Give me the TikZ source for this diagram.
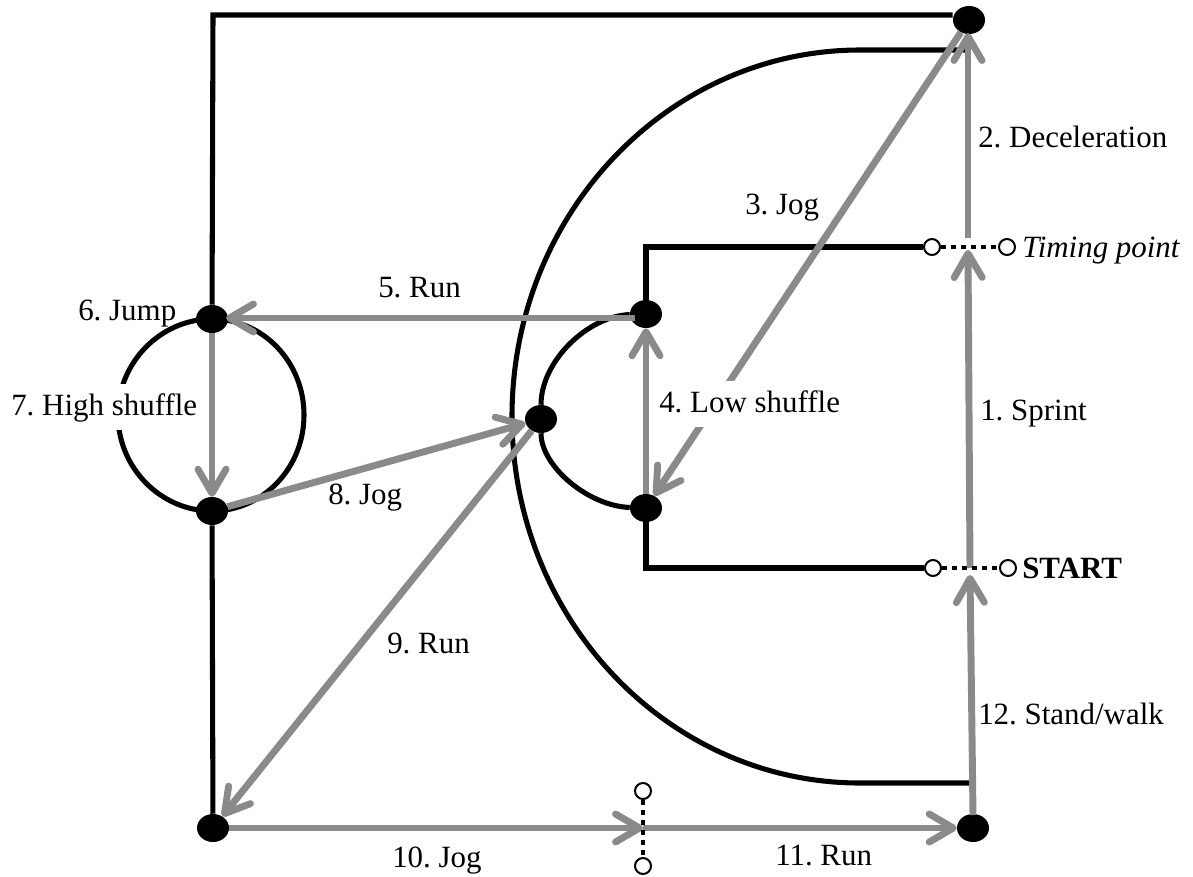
\documentclass[tikz,border=0pt]{standalone}
\usepackage{fontspec}
\setmainfont{Liberation Serif}
\usetikzlibrary{arrows.meta,shapes.geometric}
\definecolor{arrowgray}{HTML}{8A8A8A}
\tikzset{
  blk/.style={draw=black,line width=3.8pt},
  dot/.style={ellipse,fill=black,inner sep=0pt,minimum width=24pt,minimum height=21pt},
  hollow/.style={circle,draw=black,fill=white,line width=1.5pt,inner sep=0pt,minimum size=12pt},
  dsh/.style={draw=black,line width=2.4pt,dash pattern=on 4pt off 3.5pt},
  gar/.style={draw=arrowgray,line width=5.2pt,-{Straight Barb[length=18pt,width=21pt,round]}},
  lab/.style={anchor=base west,inner sep=0pt,font=\fontsize{23.2pt}{26pt}\selectfont},
  labw/.style={lab,fill=white,inner sep=1.5pt,text height=21.5pt,text depth=10pt}
}
\begin{document}
\frenchspacing
\begin{tikzpicture}[x=0.75pt,y=-0.75pt]
\useasboundingbox (0,0) rectangle (1193,876);
% coordinates
\coordinate (tl) at (213,15);
\coordinate (trs) at (969,15);
\coordinate (arcT) at (969,50);
\coordinate (arcB) at (971,783);
\coordinate (c1) at (646,247);
\coordinate (c2) at (646,568);
\coordinate (tp) at (968,238);
\coordinate (tpb) at (968,250);
\coordinate (tt) at (968,33);
\coordinate (st) at (970,568);
\coordinate (stb) at (970,575);
\coordinate (brt) at (973,815);
\coordinate (mm) at (643,828);
\coordinate (r5a) at (635,318);
\coordinate (r5b) at (226,318);
% dots
\node[dot] (tr) at (969,20) {};
\node[dot] (br) at (973,828) {};
\node[dot] (bl) at (213,828) {};
\node[dot] (jump) at (212,319) {};
\node[dot] (hs) at (212,511) {};
\node[dot] (mid) at (541,419) {};
\node[dot] (up) at (646,314) {};
\node[dot] (lo) at (646,508) {};
% hollow markers
\node[hollow] (t1) at (932,247) {};
\node[hollow] (t2) at (1007,247) {};
\node[hollow] (s1) at (933,568) {};
\node[hollow] (s2) at (1008,568) {};
\node[hollow] (m1) at (643,791) {};
\node[hollow] (m2) at (643,866) {};
% black structure
\draw[blk] (tr.west |- trs) -- (tl) -- (jump);
\draw[blk] (hs) -- (bl);
\draw[blk] (arcT) -- (860,50) .. controls (668,50) and (512,214) .. (512,416.5) .. controls (512,619) and (668,783) .. (860,783) -- (arcB);
\draw[blk] (up) -- (c1) -- (t1);
\draw[blk] (lo) -- (c2) -- (s1);
\draw[blk] (up) .. controls (588,316) and (541,361) .. (mid) .. controls (541,466) and (588,506) .. (lo);
\draw[blk] (212,319) .. controls (263,319) and (304,362) .. (304,415) .. controls (304,468) and (263,511) .. (212,511) .. controls (161,511) and (118,468) .. (118,415) .. controls (118,362) and (161,319) .. (212,319);
% gray arrows
\draw[gar] (tp) -- (tt);
\draw[gar] (st) -- (tpb);
\draw[gar] (tr) -- (lo);
\draw[gar] (lo) -- (up);
\draw[gar] (r5a) -- (r5b);
\draw[gar] (jump) -- (hs);
\draw[gar] (hs) -- (mid);
\draw[gar] (mid) -- (bl);
\draw[gar] (bl) -- (mm);
\draw[gar] (mm) -- (br);
\draw[gar] (brt) -- (stb);
% dashed links above the arrows
\draw[dsh] (t1) -- (t2);
\draw[dsh] (s1) -- (s2);
\draw[dsh] (m1) -- (m2);
% labels
\node[lab] (l2) at (978,147) {2. Deceleration};
\node[lab] (ltp) at (1022,257) {\itshape Timing point};
\node[lab] (lst) at (1022,578) {\bfseries START};
\node[lab] (l1) at (980,420) {1. Sprint};
\node[lab] (l12) at (978,724) {12. Stand/walk};
\node[lab] (l3) at (745,214) {3. Jog};
\node[labw] (l4) at (657,412) {4. Low shuffle};
\node[lab] (l5) at (378,297) {5. Run};
\node[lab] (l6) at (78,320) {6. Jump};
\node[labw] (l7) at (9,415) {7. High shuffle};
\node[lab] (l8) at (328,504) {8. Jog};
\node[lab] (l9) at (387,653) {9. Run};
\node[lab] (l10) at (392,867) {10. Jog};
\node[lab] (l11) at (775,865) {11. Run};
\end{tikzpicture}
\end{document}
